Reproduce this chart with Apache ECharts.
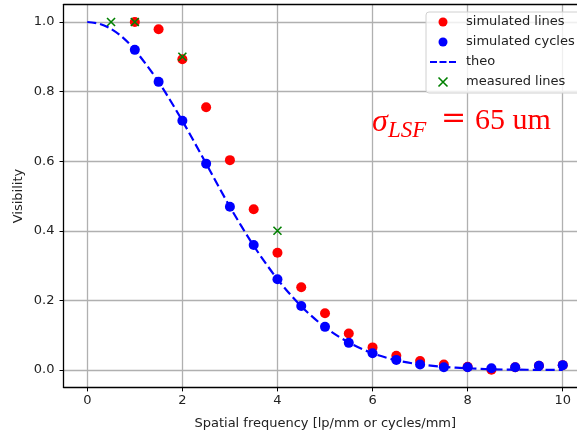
<!DOCTYPE html>
<html>
<head>
<meta charset="utf-8">
<script src="https://cdn.jsdelivr.net/npm/echarts@6/dist/echarts.min.js"></script>
<style>
  html, body { margin: 0; padding: 0; background: #fff; }
  #chart { width: 577px; height: 430px; }
</style>
</head>
<body>
<div id="chart"></div>
<script>
// spatial frequencies of the simulated points
var simX = [1, 1.5, 2, 2.5, 3, 3.5, 4, 4.5, 5, 5.5, 6, 6.5, 7, 7.5, 8, 8.5, 9, 9.5, 10];
var simLines = [1.0, 0.979, 0.893, 0.755, 0.603, 0.462, 0.337, 0.238, 0.163, 0.105, 0.065, 0.041, 0.026, 0.016, 0.009, 0.001, 0.008, 0.012, 0.014];
var simCycles = [0.92, 0.828, 0.716, 0.593, 0.469, 0.359, 0.261, 0.184, 0.124, 0.078, 0.048, 0.029, 0.016, 0.008, 0.008, 0.005, 0.008, 0.012, 0.014];

// theoretical curve
var theoX = [0, 0.25, 0.5, 0.75, 1, 1.5, 2, 2.5, 3, 3.5, 4, 4.5, 5, 5.5, 6, 6.5, 7, 7.5, 8, 8.5, 9, 9.5, 10];
var theoY = [1.0, 0.995, 0.98, 0.955, 0.92, 0.828, 0.716, 0.593, 0.469, 0.357, 0.261, 0.183, 0.123, 0.079, 0.048, 0.028, 0.016, 0.009, 0.005, 0.002, 0.001, 0.0005, 0.0];

// measurements
var measX = [0.5, 1, 2, 4];
var measY = [1.0, 1.0, 0.90, 0.40];

// tick labels
var xTicks = [0, 2, 4, 6, 8, 10];
var yTicks = [0, 0.2, 0.4, 0.6, 0.8, 1.0];

function pairs(xs, ys) {
  return xs.map(function (x, i) { return [x, ys[i]]; });
}

var FONT = 'DejaVu Sans';
var CROSS = 'path://M0,0L10,10M10,0L0,10';
var DASH = 'path://M0,0h7v2.2h-7zM9.5,0h7v2.2h-7zM19,0h7v2.2h-7z';
var GRIDLINE = { color: '#b0b0b0', width: 1.3 };
var SPINE = { color: '#000', width: 1.3 };

var chart = echarts.init(document.getElementById('chart'));
var option = {
  animation: false,
  textStyle: { fontFamily: FONT },
  grid: {
    left: 63.5, top: 4.6, right: 0, bottom: 42.6,
    outerBoundsMode: 'none', containLabel: false
  },
  xAxis: [{
    type: 'value', min: -0.5, max: 10.3,
    name: 'Spatial frequency [lp/mm or cycles/mm]',
    nameLocation: 'middle', nameGap: 30, nameMoveOverlap: false,
    nameTextStyle: { fontSize: 13, color: '#222', fontFamily: FONT, padding: [0, 0, 0, 10] },
    axisLine: { show: true, onZero: false, lineStyle: SPINE },
    axisTick: { show: true, length: 4, customValues: xTicks, lineStyle: { color: '#000', width: 1 } },
    axisLabel: { fontSize: 13, color: '#222', margin: 7, fontFamily: FONT, customValues: xTicks },
    splitLine: { show: true, lineStyle: GRIDLINE }
  }, {
    // top spine only
    type: 'value', min: -0.5, max: 10.3, position: 'top',
    axisLine: { show: true, onZero: false, lineStyle: SPINE },
    axisTick: { show: false }, axisLabel: { show: false }, splitLine: { show: false }
  }],
  yAxis: {
    type: 'value', min: -0.05, max: 1.05,
    name: 'Visibility',
    nameLocation: 'middle', nameGap: 38, nameMoveOverlap: false,
    nameTextStyle: { fontSize: 13, color: '#222', fontFamily: FONT },
    axisLine: { show: true, onZero: false, lineStyle: SPINE },
    axisTick: { show: true, length: 4, customValues: yTicks, lineStyle: { color: '#000', width: 1 } },
    axisLabel: {
      fontSize: 13, color: '#222', margin: 9, fontFamily: FONT, customValues: yTicks,
      formatter: function (v) { return v.toFixed(1); }
    },
    splitLine: { show: true, lineStyle: GRIDLINE }
  },
  legend: {
    orient: 'vertical',
    left: 426, top: 12,
    padding: [3, 20, 4, 4],
    itemWidth: 26, itemHeight: 9, itemGap: 6,
    backgroundColor: 'rgba(255,255,255,0.8)',
    borderColor: '#d0d0d0', borderWidth: 1, borderRadius: 3,
    textStyle: { fontSize: 13, color: '#222', fontFamily: FONT, lineHeight: 14, padding: [0, 0, 0, 5] },
    data: [
      { name: 'simulated lines', icon: 'circle', itemStyle: { color: '#ff0000', opacity: 1 } },
      { name: 'simulated cycles', icon: 'circle', itemStyle: { color: '#0000ff', opacity: 1 } },
      { name: 'theo', icon: DASH, itemStyle: { color: '#0000ff', opacity: 1 } },
      { name: 'measured lines', icon: CROSS,
        itemStyle: { color: 'none', borderColor: '#008000', borderWidth: 1.6, opacity: 1 } }
    ]
  },
  graphic: [
    { type: 'text', left: 372, top: 107,
      style: { text: 'σ', font: 'italic 32px "Liberation Serif"', fill: '#ff0000' } },
    { type: 'text', left: 388, top: 119,
      style: { text: 'LSF', font: 'italic 23px "Liberation Serif"', fill: '#ff0000' } },
    { type: 'text', left: 441, top: 104,
      style: { text: '=', font: '30px "DejaVu Serif"', fill: '#ff0000' } },
    { type: 'text', left: 475, top: 106,
      style: { text: '65 um', font: '30px "Liberation Serif"', fill: '#ff0000' } }
  ],
  series: [
    {
      name: 'simulated lines', type: 'scatter',
      data: pairs(simX, simLines),
      symbol: 'circle', symbolSize: 10,
      itemStyle: { color: '#ff0000', opacity: 1 }
    },
    {
      name: 'simulated cycles', type: 'scatter',
      data: pairs(simX, simCycles),
      symbol: 'circle', symbolSize: 10,
      itemStyle: { color: '#0000ff', opacity: 1 }
    },
    {
      name: 'theo', type: 'line',
      data: pairs(theoX, theoY),
      smooth: 0.3, showSymbol: false, symbol: 'none',
      lineStyle: { color: '#0000ff', width: 2.2, type: [9, 4] },
      itemStyle: { color: '#0000ff' }
    },
    {
      name: 'measured lines', type: 'scatter',
      data: pairs(measX, measY),
      symbol: CROSS, symbolSize: 8,
      itemStyle: { color: 'none', borderColor: '#008000', borderWidth: 1.6, opacity: 1 }
    }
  ]
};
chart.setOption(option);
</script>
</body>
</html>
